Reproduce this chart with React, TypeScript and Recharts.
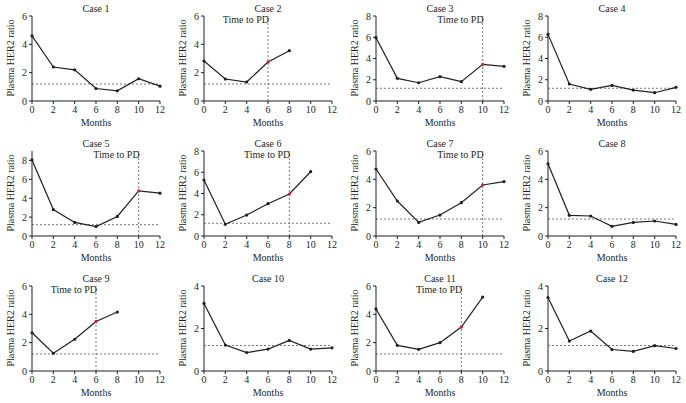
import { LineChart, Line, XAxis, YAxis, ReferenceLine } from 'recharts'

const months = [0, 2, 4, 6, 8, 10, 12]
const case1 = [4.6, 2.4, 2.2, 0.88, 0.72, 1.57, 1.05]
const case2 = [2.82, 1.55, 1.34, 2.75, 3.55]
const case3 = [5.96, 2.13, 1.72, 2.29, 1.82, 3.45, 3.26]
const case4 = [6.27, 1.6, 1.1, 1.47, 1.03, 0.78, 1.29]
const case5 = [8.05, 2.8, 1.44, 1.0, 2.07, 4.77, 4.53]
const case6 = [5.27, 1.1, 1.97, 3.04, 3.95, 6.05]
const case7 = [4.73, 2.47, 0.96, 1.48, 2.35, 3.6, 3.84]
const case8 = [5.1, 1.46, 1.41, 0.68, 0.96, 1.06, 0.82]
const case9 = [2.7, 1.25, 2.24, 3.5, 4.16]
const case10 = [3.18, 1.22, 0.87, 1.03, 1.44, 1.03, 1.09]
const case11 = [4.38, 1.81, 1.53, 2.0, 3.1, 5.22]
const case12 = [3.46, 1.41, 1.88, 1.01, 0.92, 1.19, 1.06]

const caseValues = [case1, case2, case3, case4, case5, case6, case7, case8, case9, case10, case11, case12]
const caseTitles = ['Case 1', 'Case 2', 'Case 3', 'Case 4', 'Case 5', 'Case 6', 'Case 7', 'Case 8', 'Case 9', 'Case 10', 'Case 11', 'Case 12']
const pdMonths: (number | null)[] = [null, 6, 10, null, 10, 8, 10, null, 6, null, 8, null]
const yMaxes = [6, 6, 8, 8, 9, 8, 6, 6, 6, 4, 6, 4]
const threshold = 1.2
const xTicks = [0, 2, 4, 6, 8, 10, 12]

const FONT = '"Liberation Serif", "DejaVu Serif", serif'
const INK = '#231f20'
const PANEL_W = 172
const PANEL_H = 135
const FS = 10

function yTicksFor(max: number) {
    const t: number[] = []
    for (let v = 0; v <= max; v += 2) t.push(v)
    return t
}

function Panel({ idx }: { idx: number }) {
    const values = caseValues[idx]
    const pd = pdMonths[idx]
    const data = values.map((v, i) => ({ m: months[i], v }))
    const yMax = yMaxes[idx]
    const tickStyle = { fontSize: FS, fontFamily: FONT, fill: INK, fontWeight: 400 }
    const textStyle = { position: 'absolute' as const, fontSize: FS, fontFamily: FONT, fontWeight: 400, color: INK, whiteSpace: 'nowrap' as const, lineHeight: 1 }

    const dot = (props: any) => {
        const { cx, cy, payload, index } = props
        const red = pd !== null && payload.m === pd
        return <circle key={index} cx={cx} cy={cy} r={1.6} fill={red ? '#d0202a' : INK} stroke="none" />
    }

    return (
        <div style={{ position: 'relative', width: PANEL_W, height: PANEL_H }}>
            <LineChart width={PANEL_W} height={PANEL_H} data={data} margin={{ top: 16, right: 12, left: 0, bottom: 0 }}>
                <XAxis
                    dataKey="m"
                    type="number"
                    domain={[0, 12]}
                    ticks={xTicks}
                    height={34}
                    tick={tickStyle}
                    tickSize={3}
                    stroke={INK}
                    interval={0}
                />
                <YAxis
                    type="number"
                    domain={[0, yMax]}
                    ticks={yTicksFor(yMax)}
                    width={32}
                    tick={tickStyle}
                    tickSize={3}
                    stroke={INK}
                    interval={0}
                />
                <ReferenceLine y={threshold} stroke="#555" strokeDasharray="2 2" strokeWidth={0.8} />
                {pd !== null && (
                    <ReferenceLine
                        x={pd}
                        stroke="#555"
                        strokeDasharray="2 2"
                        strokeWidth={0.8}
                        label={(p: any) => (
                            <text
                                x={p.viewBox.x + 1}
                                y={p.viewBox.y + 7}
                                textAnchor="end"
                                fontSize={FS}
                                fontFamily={FONT}
                                fill={INK}
                            >
                                Time to PD
                            </text>
                        )}
                    />
                )}
                <Line
                    type="linear"
                    dataKey="v"
                    stroke={INK}
                    strokeWidth={1.2}
                    dot={dot}
                    activeDot={false}
                    isAnimationActive={false}
                />
            </LineChart>
            <div style={{ ...textStyle, left: 96, top: 9, transform: 'translate(-50%, -50%)' }}>
                {caseTitles[idx]}
            </div>
            <div style={{ ...textStyle, left: 96, top: 123, transform: 'translate(-50%, -50%)' }}>
                Months
            </div>
            <div style={{ ...textStyle, left: 11, top: 58, transform: 'translate(-50%, -50%) rotate(-90deg)' }}>
                Plasma HER2 ratio
            </div>
        </div>
    )
}

export default function App() {
    return (
        <div style={{ position: 'absolute', left: 0, top: 0, width: 686, height: 403, overflow: 'hidden', background: '#fff' }}>
            {caseValues.map((_, i) => (
                <div key={i} style={{ position: 'absolute', left: (i % 4) * PANEL_W, top: Math.floor(i / 4) * PANEL_H }}>
                    <Panel idx={i} />
                </div>
            ))}
        </div>
    )
}
